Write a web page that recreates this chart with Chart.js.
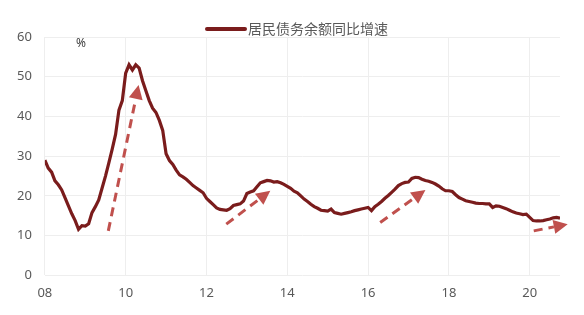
<!DOCTYPE html>
<html>
<head>
<meta charset="utf-8">
<script src="https://cdn.jsdelivr.net/npm/chart.js@4/dist/chart.umd.min.js"></script>
<style>
  html, body { margin: 0; padding: 0; background: #fff; }
  #wrap { width: 584px; height: 315px; }
</style>
</head>
<body>
<div id="wrap"><canvas id="debtChart"></canvas></div>
<script>
// monthly series, Jan 2008 .. Oct 2020
const startYear = 2008
const seriesName = "居民债务余额同比增速"
const growth = [
  29.0, 27.0, 26.0, 23.8, 22.8, 21.5, 19.5, 17.5, 15.5, 13.8, 11.6, 12.5,
  12.4, 13.0, 15.8, 17.3, 19.0, 22.0, 25.0, 28.3, 31.8, 35.5, 41.6, 44.0,
  50.9, 53.0, 51.7, 53.0, 52.2, 49.0, 46.5, 44.0, 42.1, 41.0, 39.0, 36.5,
  30.6, 28.9, 27.9, 26.5, 25.3, 24.8, 24.2, 23.4, 22.6, 22.0, 21.4, 20.8,
  19.4, 18.6, 17.8, 17.0, 16.6, 16.5, 16.4, 16.8, 17.6, 17.8, 18.0, 18.7,
  20.6, 21.0, 21.3, 22.3, 23.3, 23.6, 23.9, 23.8, 23.5, 23.6, 23.3, 22.9,
  22.4, 21.9, 21.2, 20.8, 20.0, 19.2, 18.6, 17.9, 17.3, 16.9, 16.4, 16.3,
  16.2, 16.7, 15.8, 15.6, 15.4, 15.6, 15.8, 16.0, 16.3, 16.5, 16.7, 16.9,
  17.1, 16.3, 17.3, 17.9, 18.6, 19.4, 20.1, 20.9, 21.7, 22.6, 23.1, 23.4,
  23.5, 24.4, 24.7, 24.6, 24.2, 23.9, 23.7, 23.4, 23.0, 22.5, 21.8, 21.3,
  21.3, 21.1, 20.3, 19.6, 19.2, 18.8, 18.6, 18.4, 18.2, 18.1, 18.1, 18.0,
  18.0, 17.1, 17.5, 17.4, 17.1, 16.8, 16.4, 16.0, 15.7, 15.5, 15.3, 15.4,
  14.6, 13.8, 13.7, 13.7, 13.8, 14.0, 14.2, 14.5, 14.6, 14.4
]
const yTicks = [0, 10, 20, 30, 40, 50, 60]
const xTickYears = [2008, 2010, 2012, 2014, 2016, 2018, 2020]

// trend arrows: [year, value] start -> end
const arrowFrom = [[2009.57, 11.2], [2012.49, 12.9], [2016.30, 13.3], [2020.10, 11.2]]
const arrowTo = [[2010.32, 47.9], [2013.58, 21.3], [2017.42, 21.5], [2020.94, 12.9]]

const lineColor = "#7a1c1c"
const arrowColor = "#c0504d"
const textColor = "#595959"

const points = growth.map((v, i) => ({ x: startYear + i / 12, y: v }))

const annotations = {
  id: "annotations",
  afterDatasetsDraw(chart) {
    const ctx = chart.ctx
    const xs = chart.scales.x
    const ys = chart.scales.y
    ctx.save()
    ctx.strokeStyle = arrowColor
    ctx.fillStyle = arrowColor
    ctx.lineWidth = 3
    arrowFrom.forEach((from, i) => {
      const x1 = xs.getPixelForValue(from[0])
      const y1 = ys.getPixelForValue(from[1])
      const x2 = xs.getPixelForValue(arrowTo[i][0])
      const y2 = ys.getPixelForValue(arrowTo[i][1])
      const ang = Math.atan2(y2 - y1, x2 - x1)
      const head = 14
      const half = 7
      const bx = x2 - Math.cos(ang) * head
      const by = y2 - Math.sin(ang) * head
      ctx.setLineDash([9, 6])
      ctx.beginPath()
      ctx.moveTo(x1, y1)
      ctx.lineTo(bx, by)
      ctx.stroke()
      ctx.setLineDash([])
      ctx.beginPath()
      ctx.moveTo(x2, y2)
      ctx.lineTo(bx + Math.sin(ang) * half, by - Math.cos(ang) * half)
      ctx.lineTo(bx - Math.sin(ang) * half, by + Math.cos(ang) * half)
      ctx.closePath()
      ctx.fill()
    })

    // unit label
    ctx.fillStyle = "#404040"
    ctx.font = "12px 'Noto Sans', sans-serif"
    ctx.textAlign = "left"
    ctx.textBaseline = "middle"
    ctx.fillText("%", 76, 44)

    // legend
    const lx = 207
    const ly = 29
    ctx.strokeStyle = lineColor
    ctx.lineWidth = 4
    ctx.lineCap = "round"
    ctx.beginPath()
    ctx.moveTo(lx, ly)
    ctx.lineTo(lx + 38, ly)
    ctx.stroke()
    ctx.fillStyle = textColor
    ctx.font = "14px 'Noto Sans CJK SC', sans-serif"
    ctx.fillText(seriesName, lx + 41, ly)
    ctx.restore()
  }
}

document.addEventListener("DOMContentLoaded", () => {
  const ctx = document.getElementById("debtChart").getContext("2d")
  new Chart(ctx, {
    type: "line",
    data: {
      datasets: [
        {
          label: seriesName,
          data: points,
          borderColor: lineColor,
          backgroundColor: lineColor,
          borderWidth: 3.2,
          pointRadius: 0,
          tension: 0,
          fill: false
        }
      ]
    },
    options: {
      responsive: true,
      maintainAspectRatio: false,
      animation: false,
      layout: { padding: { top: 37, right: 24, left: 4, bottom: 4 } },
      plugins: {
        legend: { display: false },
        tooltip: { enabled: false }
      },
      scales: {
        x: {
          type: "linear",
          min: startYear,
          max: 2020.75,
          afterBuildTicks: (axis) => { axis.ticks = xTickYears.map((v) => ({ value: v })) },
          grid: { color: "#eeeeee", drawTicks: false },
          border: { display: false },
          ticks: {
            color: textColor,
            font: { family: "'Noto Sans', sans-serif", size: 13 },
            padding: 10,
            maxRotation: 0,
            callback: (v) => String(v).slice(2)
          }
        },
        y: {
          min: 0,
          max: 60,
          afterBuildTicks: (axis) => { axis.ticks = yTicks.map((v) => ({ value: v })) },
          grid: { color: "#eeeeee", drawTicks: false },
          border: { display: false },
          ticks: {
            color: textColor,
            font: { family: "'Noto Sans', sans-serif", size: 13 },
            padding: 13
          }
        }
      }
    },
    plugins: [annotations]
  })
})
</script>
</body>
</html>
